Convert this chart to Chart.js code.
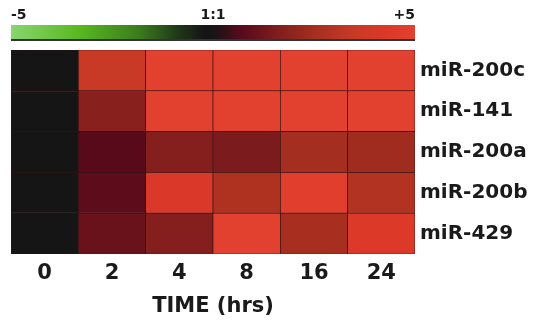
<!DOCTYPE html>
<html>
<head>
<meta charset="utf-8">
<script src="https://cdn.jsdelivr.net/npm/chart.js@4.4.1/dist/chart.umd.min.js"></script>
<style>
  html, body { margin: 0; padding: 0; background: #fff; }
  canvas { display: block; }
</style>
</head>
<body>
<canvas id="heat" width="542" height="324"></canvas>
<script>
// columns and rows
const times = ['0', '2', '4', '8', '16', '24'];
const mirnas = ['miR-200c', 'miR-141', 'miR-200a', 'miR-200b', 'miR-429'];

// log ratio vs 0 h (-5 .. +5)
const mir200c = [0, 3.5, 5, 5, 5, 5];
const mir141 = [0, 1.8, 5, 5, 5, 5];
const mir200a = [0, 0.7, 1.7, 1.5, 2.5, 2.4];
const mir200b = [0, 0.8, 4.2, 2.8, 4.8, 2.9];
const mir429 = [0, 1.1, 1.7, 5, 2.6, 4.4];
const rows = [mir200c, mir141, mir200a, mir200b, mir429];

// colour key
const keyMin = -5;
const keyMax = 5;
const keyLabels = ['-5', '1:1', '+5'];

const colorStops = [
  [-5, '#88d66e'],
  [-3.3, '#58b820'],
  [-1.8, '#3a7a1c'],
  [-0.8, '#1e3418'],
  [-0.2, '#151515'],
  [0, '#151515'],
  [0.7, '#580a1b'],
  [1.6, '#801d1d'],
  [2.5, '#a42e1f'],
  [3.5, '#c83a26'],
  [4.3, '#dc3828'],
  [5, '#e3412f'],
];

const fontFamily = '"DejaVu Sans", "Liberation Sans", Arial, sans-serif';

function hexToRgb(hex) {
  const n = parseInt(hex.slice(1), 16);
  return [(n >> 16) & 255, (n >> 8) & 255, n & 255];
}

function colorFor(value) {
  const v = Math.max(keyMin, Math.min(keyMax, value));
  for (let i = 1; i < colorStops.length; i++) {
    const [v1, c1] = colorStops[i];
    if (v <= v1) {
      const [v0, c0] = colorStops[i - 1];
      const t = v1 === v0 ? 0 : (v - v0) / (v1 - v0);
      const a = hexToRgb(c0);
      const b = hexToRgb(c1);
      const mix = a.map((x, k) => Math.round(x + (b[k] - x) * t));
      return `rgb(${mix.join(',')})`;
    }
  }
  return colorStops[colorStops.length - 1][1];
}

// stacked from the bottom, so the last row goes first
const datasets = mirnas
  .map((name, r) => ({
    label: name,
    data: times.map(() => 1),
    backgroundColor: rows[r].map(colorFor),
    borderColor: 'rgba(45, 12, 12, 0.95)',
    borderWidth: 0.7,
    borderSkipped: false,
    barPercentage: 1,
    categoryPercentage: 1,
  }))
  .reverse();

const colorKey = {
  id: 'colorKey',
  afterDraw(chart) {
    const { ctx, chartArea } = chart;
    const left = chartArea.left;
    const right = chartArea.right;
    const top = 25;
    const bottom = 40;
    const grad = ctx.createLinearGradient(left, 0, right, 0);
    colorStops.forEach(([v, c]) => grad.addColorStop((v - keyMin) / (keyMax - keyMin), c));
    ctx.save();
    ctx.fillStyle = grad;
    ctx.fillRect(left, top, right - left, bottom - top);
    ctx.fillStyle = '#333';
    ctx.fillRect(left, bottom - 1, right - left, 2);

    ctx.fillStyle = '#1a1a1a';
    ctx.font = `bold 14px ${fontFamily}`;
    ctx.textBaseline = 'middle';
    ctx.textAlign = 'left';
    ctx.fillText(keyLabels[0], left, 15);
    ctx.textAlign = 'center';
    ctx.fillText(keyLabels[1], (left + right) / 2, 15);
    ctx.textAlign = 'right';
    ctx.fillText(keyLabels[2], right, 15);
    ctx.restore();
  },
};

new Chart(document.getElementById('heat'), {
  type: 'bar',
  data: { labels: times, datasets },
  plugins: [colorKey],
  options: {
    responsive: false,
    animation: false,
    layout: { padding: { left: 11, top: 50, right: 0, bottom: 0 } },
    plugins: {
      legend: { display: false },
      tooltip: { enabled: false },
    },
    scales: {
      x: {
        stacked: true,
        grid: { display: false, drawTicks: false },
        border: { display: false },
        ticks: {
          color: '#1a1a1a',
          padding: 7,
          font: { family: fontFamily, size: 21, weight: 'bold' },
          maxRotation: 0,
        },
        title: {
          display: true,
          text: 'TIME (hrs)',
          color: '#1a1a1a',
          font: { family: fontFamily, size: 21, weight: 'bold' },
          padding: { top: 4, bottom: 5 },
        },
        afterFit: (scale) => { scale.height = 70; },
      },
      y: {
        stacked: true,
        position: 'right',
        min: 0,
        max: mirnas.length,
        grid: { display: false, drawTicks: false },
        border: { display: false },
        afterBuildTicks: (scale) => {
          scale.ticks = mirnas.map((_, i) => ({ value: mirnas.length - i - 0.5 }));
        },
        ticks: {
          color: '#1a1a1a',
          padding: 5,
          font: { family: fontFamily, size: 20, weight: 'bold' },
          callback: (value) => mirnas[mirnas.length - 1 - Math.floor(value)],
        },
        afterFit: (scale) => { scale.width = 127; },
      },
    },
  },
});
</script>
</body>
</html>
